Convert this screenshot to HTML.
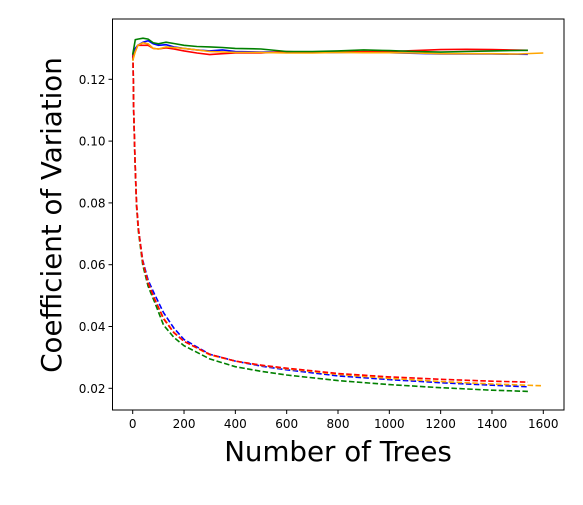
<!DOCTYPE html>
<html><head><meta charset="utf-8"><style>
body{margin:0;background:#fff;font-family:"DejaVu Sans","Liberation Sans",sans-serif}
</style></head><body>
<svg width="583" height="501" xmlns="http://www.w3.org/2000/svg">
<g id="plot"></g>
</svg>
<script>
const xTicks=[0,200,400,600,800,1000,1200,1400,1600];
const yTicks=[0.02,0.04,0.06,0.08,0.10,0.12];
const yTickLabels=["0.02","0.04","0.06","0.08","0.10","0.12"];
const dashX=[1,4,9,15,22,39,60,85,120,160,200,300,400,500,600,800,1000,1200,1400,1540];
const blueDash=[0.128,0.11,0.094,0.08,0.072,0.0615,0.055,0.0505,0.0445,0.0395,0.0358,0.031,0.0288,0.0272,0.026,0.024,0.0228,0.0218,0.021,0.0205];
const redDash=[0.128,0.11,0.094,0.08,0.0718,0.061,0.054,0.049,0.0425,0.038,0.0352,0.031,0.0288,0.0275,0.0265,0.0248,0.0237,0.0229,0.0223,0.022];
const greenDash=[0.128,0.109,0.093,0.079,0.071,0.060,0.053,0.048,0.0405,0.0365,0.0338,0.0295,0.027,0.0255,0.0243,0.0225,0.0212,0.0202,0.0194,0.019];
const orangeX=[1,4,9,15,22,39,60,85,120,160,200,300,400,500,600,800,1000,1200,1400,1600];
const orangeDash=[0.128,0.11,0.094,0.08,0.0718,0.061,0.0542,0.049,0.0428,0.0382,0.0352,0.0308,0.0288,0.0274,0.0263,0.0245,0.0232,0.0222,0.0214,0.0208];
const solidX=[0,10,20,40,60,80,100,130,160,200,250,300,350,400,500,600,700,800,900,1000,1100,1200,1300,1400,1540];
const blueSolid=[0.127,0.130,0.131,0.132,0.1325,0.1315,0.131,0.1312,0.1305,0.130,0.1295,0.1292,0.1295,0.129,0.1288,0.1288,0.1286,0.1287,0.1288,0.1286,0.1284,0.1282,0.1282,0.1282,0.1281];
const redSolid=[0.127,0.129,0.131,0.131,0.131,0.130,0.1298,0.1302,0.1298,0.1292,0.1285,0.128,0.1283,0.1285,0.1285,0.129,0.1287,0.1288,0.129,0.129,0.1293,0.1296,0.1297,0.1296,0.1294];
const greenSolid=[0.128,0.1328,0.133,0.1333,0.133,0.1318,0.1315,0.132,0.1316,0.131,0.1306,0.1305,0.1303,0.130,0.1298,0.129,0.129,0.1292,0.1295,0.1293,0.129,0.1288,0.129,0.1292,0.1294];
const orangeSolidX=[0,10,20,40,60,80,100,130,160,200,250,300,400,500,600,700,800,900,1000,1100,1200,1300,1400,1500,1600];
const orangeSolid=[0.126,0.129,0.131,0.1318,0.1315,0.130,0.1298,0.1305,0.1303,0.130,0.1295,0.129,0.1287,0.1287,0.1285,0.1285,0.1287,0.1286,0.1286,0.1285,0.1283,0.1283,0.1283,0.1282,0.1285];
const L=112.5,R=564,T=19,B=410;
const xs=v=>132.7+v*(410.6/1600);
const ys=v=>388.3-(v-0.02)*3090;
const ns="http://www.w3.org/2000/svg",g=document.getElementById('plot');
function mk(t,a){const e=document.createElementNS(ns,t);for(const k in a)e.setAttribute(k,a[k]);g.appendChild(e);return e;}
function line(xa,ya,color,dash,name){const d=xa.map((x,i)=>(i?'L':'M')+xs(x).toFixed(1)+','+ys(ya[i]).toFixed(1)).join('');
const p=mk('path',{d:d,fill:'none',stroke:color,'stroke-width':1.6});if(dash)p.setAttribute('stroke-dasharray','5.5,2.4');

}
line(dashX,greenDash,'green',1,'green-dashed-line');
line(dashX,blueDash,'blue',1,'blue-dashed-line');
line(orangeX,orangeDash,'orange',1,'orange-dashed-line');
line(dashX,redDash,'red',1,'red-dashed-line');
line(solidX,blueSolid,'blue',0,'blue-solid-line');
line(solidX,redSolid,'red',0,'red-solid-line');
line(orangeSolidX,orangeSolid,'orange',0,'orange-solid-line');
line(solidX,greenSolid,'green',0,'green-solid-line');
const fr=mk('rect',{x:L,y:T,width:R-L,height:B-T,fill:'none',stroke:'#000','stroke-width':1});


xTicks.forEach(v=>{const x=xs(v);mk('line',{x1:x,x2:x,y1:B,y2:B+4,stroke:'#000'});
const t=mk('text',{x:x,y:B+18,'text-anchor':'middle','font-size':12});t.textContent=v;

});
yTicks.forEach((v,i)=>{const y=ys(v);mk('line',{x1:L-4,x2:L,y1:y,y2:y,stroke:'#000'});
const t=mk('text',{x:L-7,y:y+4.5,'text-anchor':'end','font-size':12});t.textContent=yTickLabels[i];

});
const xt=mk('text',{x:338,y:461,'text-anchor':'middle','font-size':27.7});xt.textContent='Number of Trees';


const yt=mk('text',{x:0,y:0,'text-anchor':'middle','font-size':27.7,transform:'translate(61,215) rotate(-90)'});yt.textContent='Coefficient of Variation';


</script>
</body></html>
